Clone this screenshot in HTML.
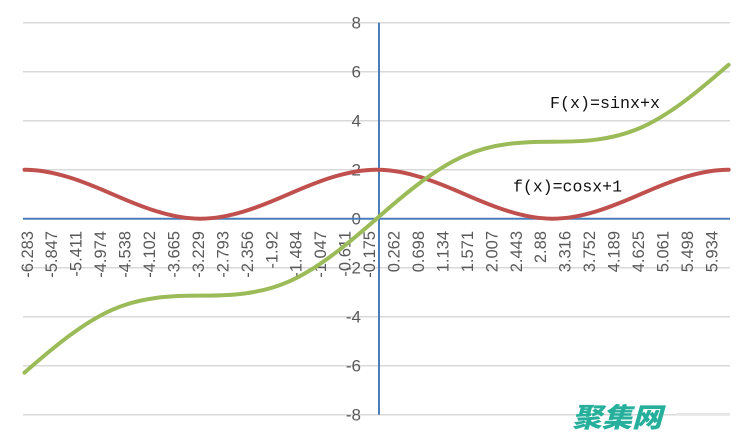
<!DOCTYPE html>
<html>
<head>
<meta charset="utf-8">
<style>
  html,body{margin:0;padding:0;background:#fff;}
  svg{display:block;}
  .xl{font-family:"Liberation Sans",sans-serif;font-size:16.5px;fill:#595959;}
  .yl{font-family:"Liberation Sans",sans-serif;font-size:17px;fill:#595959;}
  .ann{font-family:"Liberation Mono",monospace;font-size:16.5px;fill:#111;}
</style>
</head>
<body>
<svg width="753" height="438" viewBox="0 0 753 438" xmlns="http://www.w3.org/2000/svg">
  <rect width="753" height="438" fill="#fff"/>
  <!-- gridlines -->
  <g stroke="#d9d9d9" stroke-width="1.5">
    <line x1="23" y1="22.7" x2="730" y2="22.7"/>
    <line x1="23" y1="71.7" x2="730" y2="71.7"/>
    <line x1="23" y1="120.7" x2="730" y2="120.7"/>
    <line x1="23" y1="169.7" x2="730" y2="169.7"/>
    <line x1="23" y1="267.7" x2="730" y2="267.7"/>
    <line x1="23" y1="316.7" x2="730" y2="316.7"/>
    <line x1="23" y1="365.7" x2="730" y2="365.7"/>
    <line x1="23" y1="414.7" x2="730" y2="414.7"/>
  </g>
  <!-- x labels -->
  <g class="xl" text-anchor="end">
    <text transform="translate(27,231) rotate(-90)" dy="0.35em">-6.283</text>
    <text transform="translate(51.45,231) rotate(-90)" dy="0.35em">-5.847</text>
    <text transform="translate(75.9,231) rotate(-90)" dy="0.35em">-5.411</text>
    <text transform="translate(100.35,231) rotate(-90)" dy="0.35em">-4.974</text>
    <text transform="translate(124.8,231) rotate(-90)" dy="0.35em">-4.538</text>
    <text transform="translate(149.25,231) rotate(-90)" dy="0.35em">-4.102</text>
    <text transform="translate(173.7,231) rotate(-90)" dy="0.35em">-3.665</text>
    <text transform="translate(198.15,231) rotate(-90)" dy="0.35em">-3.229</text>
    <text transform="translate(222.6,231) rotate(-90)" dy="0.35em">-2.793</text>
    <text transform="translate(247.05,231) rotate(-90)" dy="0.35em">-2.356</text>
    <text transform="translate(271.5,231) rotate(-90)" dy="0.35em">-1.92</text>
    <text transform="translate(295.95,231) rotate(-90)" dy="0.35em">-1.484</text>
    <text transform="translate(320.4,231) rotate(-90)" dy="0.35em">-1.047</text>
    <text transform="translate(344.85,231) rotate(-90)" dy="0.35em">-0.611</text>
    <text transform="translate(369.3,231) rotate(-90)" dy="0.35em">-0.175</text>
    <text transform="translate(393.75,231) rotate(-90)" dy="0.35em">0.262</text>
    <text transform="translate(418.2,231) rotate(-90)" dy="0.35em">0.698</text>
    <text transform="translate(442.65,231) rotate(-90)" dy="0.35em">1.134</text>
    <text transform="translate(467.1,231) rotate(-90)" dy="0.35em">1.571</text>
    <text transform="translate(491.55,231) rotate(-90)" dy="0.35em">2.007</text>
    <text transform="translate(516,231) rotate(-90)" dy="0.35em">2.443</text>
    <text transform="translate(540.45,231) rotate(-90)" dy="0.35em">2.88</text>
    <text transform="translate(564.9,231) rotate(-90)" dy="0.35em">3.316</text>
    <text transform="translate(589.35,231) rotate(-90)" dy="0.35em">3.752</text>
    <text transform="translate(613.8,231) rotate(-90)" dy="0.35em">4.189</text>
    <text transform="translate(638.25,231) rotate(-90)" dy="0.35em">4.625</text>
    <text transform="translate(662.7,231) rotate(-90)" dy="0.35em">5.061</text>
    <text transform="translate(687.15,231) rotate(-90)" dy="0.35em">5.498</text>
    <text transform="translate(711.6,231) rotate(-90)" dy="0.35em">5.934</text>
  </g>
  <!-- y labels -->
  <g class="yl" text-anchor="end">
    <text x="361" y="22.7" dy="0.35em">8</text>
    <text x="361" y="71.7" dy="0.35em">6</text>
    <text x="361" y="120.7" dy="0.35em">4</text>
    <text x="361" y="169.7" dy="0.35em">2</text>
    <text x="361" y="218.7" dy="0.35em">0</text>
    <text x="361" y="267.7" dy="0.35em">-2</text>
    <text x="361" y="316.7" dy="0.35em">-4</text>
    <text x="361" y="365.7" dy="0.35em">-6</text>
    <text x="361" y="414.7" dy="0.35em">-8</text>
  </g>
  <!-- axes -->
  <line x1="23" y1="218.7" x2="730" y2="218.7" stroke="#4a7ebb" stroke-width="2"/>
  <line x1="379" y1="22.7" x2="379" y2="414.7" stroke="#4a7ebb" stroke-width="2"/>
  <!-- f(x)=cosx+1 -->
  <path fill="none" stroke="#c0504d" stroke-width="4" stroke-linecap="round" stroke-linejoin="round"
    d="M24.5 169.7
       C53.84 169.7 83.18 181.37 112.52 194.2
       C141.86 207.03 171.2 218.7 200.54 218.7
       C229.88 218.7 259.22 207.03 288.56 194.2
       C317.9 181.37 347.24 169.7 376.58 169.7
       C405.92 169.7 435.26 181.37 464.6 194.2
       C493.94 207.03 523.28 218.7 552.62 218.7
       C581.96 218.7 611.3 207.03 640.64 194.2
       C669.98 181.37 699.32 169.7 728.66 169.7"/>
  <!-- F(x)=sinx+x -->
  <path fill="none" stroke="#9bbb59" stroke-width="4" stroke-linecap="round" stroke-linejoin="round"
    d="M24.5 372.64
       C53.84 346.98 83.18 322.48 112.52 309.65
       C141.86 296.82 171.2 295.67 200.54 295.67
       C229.88 295.67 259.22 294.51 288.56 281.68
       C317.9 268.85 347.24 244.36 376.58 218.7
       C405.92 193.04 435.26 168.55 464.6 155.72
       C493.94 142.89 523.28 141.73 552.62 141.73
       C581.96 141.73 611.3 140.58 640.64 127.75
       C669.98 114.92 699.32 90.42 728.66 64.76"/>
  <!-- annotations -->
  <text class="ann" x="550" y="108" textLength="110" lengthAdjust="spacingAndGlyphs">F(x)=sinx+x</text>
  <text class="ann" x="513" y="191.5" textLength="109" lengthAdjust="spacingAndGlyphs">f(x)=cosx+1</text>
  <!-- watermark -->
  <text x="572" y="427" font-family="'Noto Sans CJK SC','WenQuanYi Zen Hei',sans-serif" font-size="27" font-weight="900" font-style="italic" fill="#26b09c" textLength="90" lengthAdjust="spacingAndGlyphs">聚集网</text>
  <line x1="676" y1="414" x2="730" y2="414" stroke="#e6e6e6" stroke-width="2"/>
</svg>
</body>
</html>
